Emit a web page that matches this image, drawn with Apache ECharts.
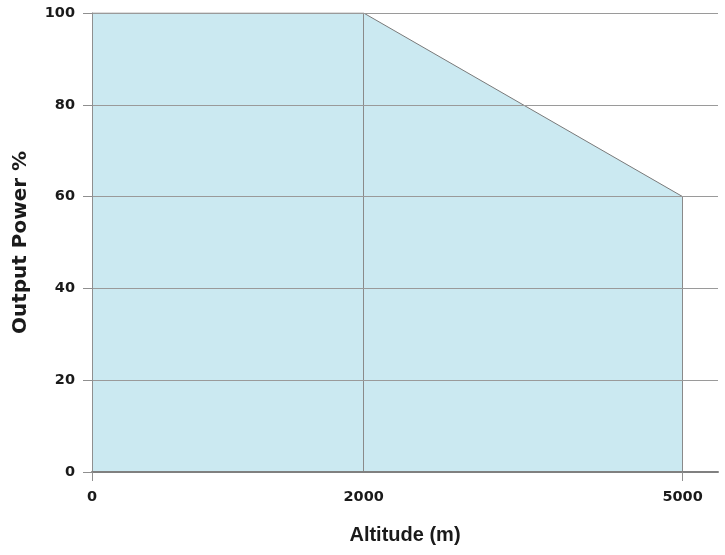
<!DOCTYPE html>
<html>
<head>
<meta charset="utf-8">
<script src="https://cdn.jsdelivr.net/npm/echarts@6/dist/echarts.min.js"></script>
<style>html,body{margin:0;padding:0;background:#fff}#c{width:725px;height:555px}</style>
</head>
<body>
<div id="c"></div>
<script>
// Data
const altitudes = [0, 2000, 5000];          // m
const outputPower = [100, 100, 60];         // %
const yTicks = [0, 20, 40, 60, 80, 100];
const guideAltitudes = [2000, 5000];        // vertical guides down to the curve

// Layout of the (non-proportional) altitude axis: slot index of each tick
const slotOf = {0: 0, 2000: 23, 5000: 50};
const totalSlots = 53;

const cats = [];
for (let i = 0; i <= totalSlots; i++) cats.push('');
altitudes.forEach(a => { cats[slotOf[a]] = String(a); });

const seriesData = altitudes.map((a, i) => [String(a), outputPower[i]]);
function powerAt(a) { return outputPower[altitudes.indexOf(a)]; }

const gray = '#8f8f8f';
const tickFont = "'DejaVu Sans', sans-serif";
const chart = echarts.init(document.getElementById('c'));
chart.setOption({
  animation: false,
  grid: {left: 92, right: 7, top: 13, bottom: 83},
  xAxis: {
    type: 'category',
    data: cats,
    boundaryGap: false,
    z: 10,
    name: 'Altitude (m)',
    nameLocation: 'middle',
    nameGap: 53,
    nameTextStyle: {fontFamily: "'Liberation Sans', Arial, sans-serif", fontWeight: 'bold', fontSize: 20, color: '#1a1a1a'},
    axisLine: {lineStyle: {color: '#808080', width: 2}},
    axisTick: {show: true, length: 9, lineStyle: {color: gray}, interval: (idx, val) => val === '0' || val === '5000'},
    axisLabel: {interval: 0, margin: 18, fontFamily: tickFont, fontWeight: 'bold', fontSize: 14.5, color: '#1a1a1a'},
    splitLine: {show: false}
  },
  yAxis: {
    type: 'value',
    min: 0, max: 100, interval: 20,
    z: 10,
    name: 'Output Power %',
    nameLocation: 'middle',
    nameGap: 61,
    nameTextStyle: {fontFamily: tickFont, fontWeight: 'bold', fontSize: 20, color: '#1a1a1a'},
    axisLine: {show: true, lineStyle: {color: gray, width: 1}},
    axisTick: {show: true, length: 9, lineStyle: {color: gray}},
    axisLabel: {margin: 17, fontFamily: tickFont, fontWeight: 'bold', fontSize: 14.5, color: '#1a1a1a',
      formatter: v => yTicks.includes(v) ? String(v) : ''},
    splitLine: {show: true, lineStyle: {color: '#9a9a9a', width: 1}}
  },
  series: [{
    type: 'line',
    data: seriesData,
    symbol: 'none',
    lineStyle: {color: '#7a7a7a', width: 1},
    areaStyle: {color: '#cbe9f1', opacity: 1},
    markLine: {
      silent: true,
      symbol: 'none',
      label: {show: false},
      lineStyle: {color: '#8a8a8a', width: 1, type: 'solid'},
      data: guideAltitudes.map(a => [{coord: [String(a), 0]}, {coord: [String(a), powerAt(a)]}])
    }
  }]
});
</script>
</body>
</html>
